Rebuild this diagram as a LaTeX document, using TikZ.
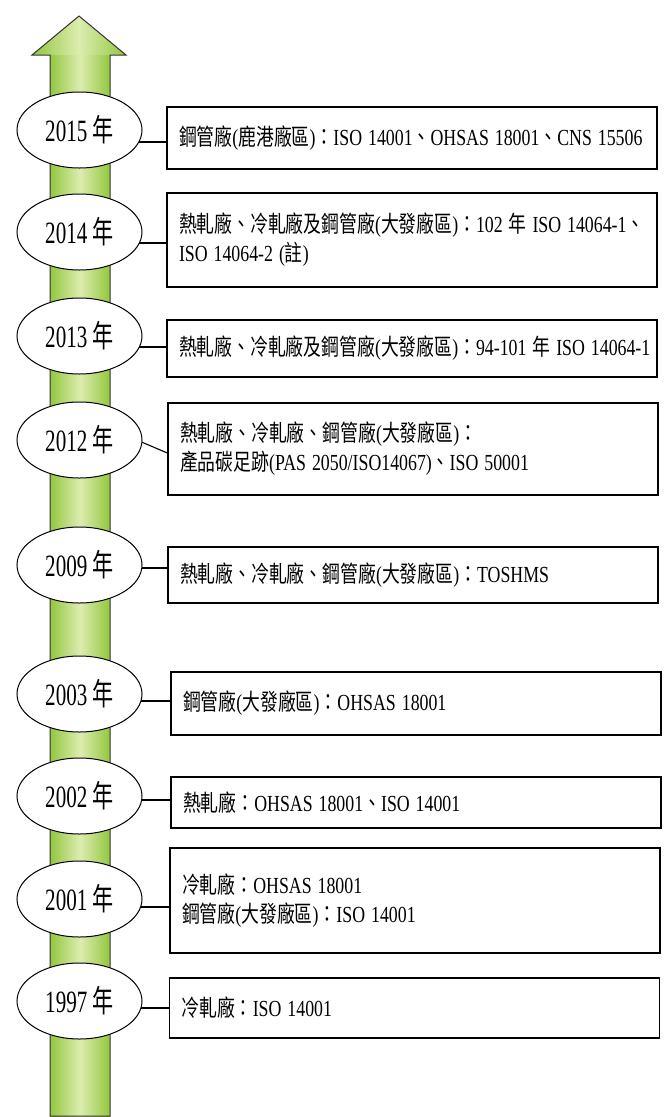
\documentclass[tikz,border=0pt]{standalone}
\usepackage{fontspec}
\usetikzlibrary{shapes.geometric,calc}
\setmainfont{Liberation Serif}
\newfontfamily\cjkbox{Noto Sans CJK TC}
\newcommand\zhtx[1]{{\cjkbox #1}}
\newcommand\yrtext[1]{\scalebox{0.68}[1]{#1 {\cjkbox 年}}}
\newcommand\oneline[1]{\scalebox{0.775}[1]{#1}}
\definecolor{arrG}{HTML}{93C63F}
\definecolor{arrL}{HTML}{DCEDB0}
\pgfdeclarelayer{bg}
\pgfdeclarelayer{mid}
\pgfsetlayers{bg,mid,main}
\tikzset{
  yearell/.style={ellipse, draw=black, line width=1pt, fill=white,
    minimum width=125pt, minimum height=76pt, inner sep=0pt,
    font=\fontsize{31}{31}\selectfont},
  infobox/.style={rectangle, draw=black, line width=1.3pt, fill=white,
    inner xsep=12pt, inner ysep=0pt, text width=466pt, minimum width=490pt,
    align=left, font=\fontsize{23}{29}\selectfont},
  link/.style={draw=black, line width=1.1pt},
  arrowline/.style={draw=black!80, line width=1pt, line join=miter}
}
\begin{document}
\begin{tikzpicture}[x=1pt,y=-1pt]
\useasboundingbox (0,0) rectangle (666,1117);
\begin{pgfonlayer}{bg}
\shade[left color=arrG, right color=arrG, middle color=arrL] (50,55) rectangle (110,1116);
\shade[left color=arrG, right color=arrG, middle color=arrL] (32,55) -- (79,16) -- (126,55) -- cycle;
\draw[arrowline] (50,1116) -- (50,55) -- (32,55) -- (79,16) -- (126,55) -- (110,55) -- (110,1116) -- cycle;
\end{pgfonlayer}

% year ellipses
\node[yearell] (e1) at (79.5,130) {\yrtext{2015}};
\node[yearell] (e2) at (79.5,232) {\yrtext{2014}};
\node[yearell] (e3) at (79.5,336) {\yrtext{2013}};
\node[yearell] (e4) at (79.5,440) {\yrtext{2012}};
\node[yearell] (e5) at (79.5,565) {\yrtext{2009}};
\node[yearell] (e6) at (79.5,694) {\yrtext{2003}};
\node[yearell] (e7) at (79.5,796) {\yrtext{2002}};
\node[yearell] (e8) at (79.5,899) {\yrtext{2001}};
\node[yearell] (e9) at (79.5,1001) {\yrtext{1997}};

% boxes
\node[infobox, minimum height=62pt] (b1) at (412,138)
  {\oneline{\zhtx{鋼管廠}(\zhtx{鹿港廠區})\zhtx{：}ISO 14001\zhtx{、}OHSAS 18001\zhtx{、}CNS 15506}};
\node[infobox, minimum height=94pt] (b2) at (412,240)
  {\oneline{\zhtx{熱軋廠、冷軋廠及鋼管廠}(\zhtx{大發廠區})\zhtx{：}102 \zhtx{年} ISO 14064-1\zhtx{、}}\\\oneline{ISO 14064-2 (\zhtx{註})}};
\node[infobox, minimum height=57pt] (b3) at (412,348.5)
  {\oneline{\zhtx{熱軋廠、冷軋廠及鋼管廠}(\zhtx{大發廠區})\zhtx{：}94-101 \zhtx{年} ISO 14064-1}};
\node[infobox, minimum height=92pt] (b4) at (413,449)
  {\oneline{\zhtx{熱軋廠、冷軋廠、鋼管廠}(\zhtx{大發廠區})\zhtx{：}}\\\oneline{\zhtx{產品碳足跡}(PAS 2050/ISO14067)\zhtx{、}ISO 50001}};
\node[infobox, minimum height=56pt] (b5) at (413,575)
  {\raisebox{-7pt}{\oneline{\zhtx{熱軋廠、冷軋廠、鋼管廠}(\zhtx{大發廠區})\zhtx{：}TOSHMS}}};
\node[infobox, minimum height=63pt] (b6) at (416,703.5)
  {\oneline{\zhtx{鋼管廠}(\zhtx{大發廠區})\zhtx{：}OHSAS 18001}};
\node[infobox, minimum height=51pt] (b7) at (416,802.5)
  {\oneline{\zhtx{熱軋廠：}OHSAS 18001\zhtx{、}ISO 14001}};
\node[infobox, minimum height=105pt] (b8) at (415,900.5)
  {\oneline{\zhtx{冷軋廠：}OHSAS 18001}\\\oneline{\zhtx{鋼管廠}(\zhtx{大發廠區})\zhtx{：}ISO 14001}};
\node[infobox, minimum height=60pt] (b9) at (414.5,1008)
  {\oneline{\zhtx{冷軋廠：}ISO 14001}};

% connectors (behind the ellipses)
\begin{pgfonlayer}{mid}
\draw[link] ([yshift=-4pt]b1.west) -- ([yshift=-4pt]b1.west -| e1.center);
\draw[link] ([yshift=-3pt]b2.west) -- ([yshift=-3pt]b2.west -| e2.center);
\draw[link] ([yshift=1.5pt]b3.west) -- ([yshift=1.5pt]b3.west -| e3.center);
\draw[link] ($(e4.east)+(-1,2)$) -- ($(b4.west)+(0,4)$);
\draw[link] ([yshift=7pt]b5.west) -- ([yshift=7pt]b5.west -| e5.center);
\draw[link] ([yshift=2.5pt]b6.west) -- ([yshift=2.5pt]b6.west -| e6.center);
\draw[link] ([yshift=2.5pt]b7.west) -- ([yshift=2.5pt]b7.west -| e7.center);
\draw[link] ([yshift=-6.5pt]b8.west) -- ([yshift=-6.5pt]b8.west -| e8.center);
\draw[link] (b9.west) -- (b9.west -| e9.center);
\end{pgfonlayer}
\end{tikzpicture}
\end{document}
